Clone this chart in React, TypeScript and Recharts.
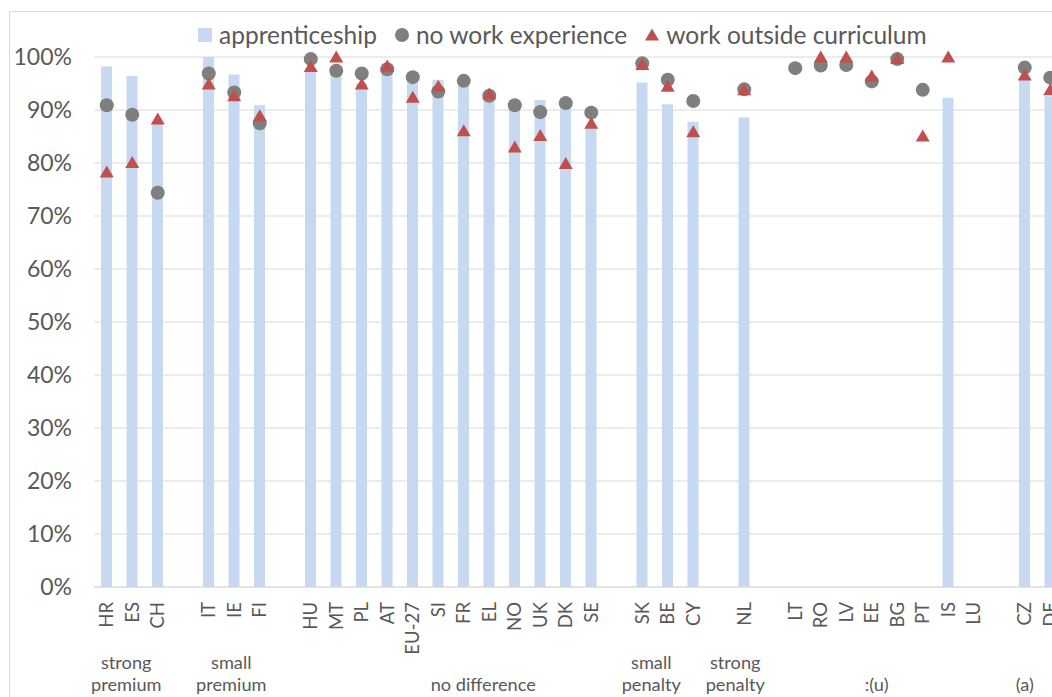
import React from 'react';
import { ComposedChart, Bar, Line, XAxis, YAxis, CartesianGrid } from 'recharts';

// gaps between country groups are blank categories starting with "_"
const categories = [
    'HR', 'ES', 'CH', '_1', 'IT', 'IE', 'FI', '_2',
    'HU', 'MT', 'PL', 'AT', 'EU-27', 'SI', 'FR', 'EL', 'NO', 'UK', 'DK', 'SE', '_3',
    'SK', 'BE', 'CY', '_4', 'NL', '_5',
    'LT', 'RO', 'LV', 'EE', 'BG', 'PT', 'IS', 'LU', '_6', 'CZ', 'DE',
];

const apprenticeship = [
    98.2, 96.4, 87.5, null, 100, 96.7, 90.9, null,
    97.5, 97, 95, 98, 95.5, 95.7, 94.7, 92.5, 91.5, 91.9, 90.5, 87, null,
    95.2, 91.1, 87.8, null, 88.6, null,
    null, null, null, null, null, null, 92.3, null, null, 95.8, 92.6,
];

const noWorkExperience = [
    90.9, 89.1, 74.4, null, 96.9, 93.3, 87.5, null,
    99.6, 97.4, 96.9, 97.7, 96.2, 93.5, 95.5, 92.7, 90.9, 89.6, 91.3, 89.5, null,
    98.8, 95.7, 91.7, null, 93.9, null,
    97.9, 98.4, 98.5, 95.4, 99.6, 93.8, null, null, null, 98.0, 96.1,
];

const workOutsideCurriculum = [
    78.3, 80.1, 88.3, null, 94.9, 92.7, 88.9, null,
    98.2, 100, 94.9, 98.3, 92.4, 94.5, 86.1, 93.0, 83.0, 85.2, 79.9, 87.5, null,
    98.6, 94.5, 85.9, null, 93.8, null,
    null, 100, 100, 96.4, 99.7, 85.1, 100, null, null, 96.6, 93.8,
];

const yTicks = [0, 10, 20, 30, 40, 50, 60, 70, 80, 90, 100];

// group captions, anchored on a category (with a small horizontal nudge)
const groupLabels: Record<string, { lines: string[]; dx: number }> = {
    ES: { lines: ['strong', 'premium'], dx: -6 },
    IE: { lines: ['small', 'premium'], dx: -3 },
    EL: { lines: ['', 'no difference'], dx: -6 },
    SK: { lines: ['small', 'penalty'], dx: 9 },
    NL: { lines: ['strong', 'penalty'], dx: -9 },
    EE: { lines: ['', ':(u)'], dx: 5 },
    CZ: { lines: ['', '(a)'], dx: 0 },
};

const BAR_COLOR = '#c6d9f1';
const CIRCLE_COLOR = '#7f7f7f';
const TRIANGLE_COLOR = '#c0504d';
const TEXT_COLOR = '#595959';
const GRID_COLOR = '#d9d9d9';
const FONT = 'Lato, "DejaVu Sans", sans-serif';

const data = categories.map((name, i) => ({
    name,
    apprenticeship: apprenticeship[i],
    noWork: noWorkExperience[i],
    outside: workOutsideCurriculum[i],
}));

const CircleDot = (props: any) => {
    const { cx, cy, value, index } = props;
    if (value == null || cy == null) return <g key={`c-${index}`} />;
    return <circle key={`c-${index}`} cx={cx} cy={cy} r={7} fill={CIRCLE_COLOR} />;
};

const TriangleDot = (props: any) => {
    const { cx, cy, value, index } = props;
    if (value == null || cy == null) return <g key={`t-${index}`} />;
    const pts = `${cx},${cy - 6.5} ${cx - 7},${cy + 5.5} ${cx + 7},${cy + 5.5}`;
    return <polygon key={`t-${index}`} points={pts} fill={TRIANGLE_COLOR} />;
};

const CategoryTick = (props: any) => {
    const { x, y, payload } = props;
    const name: string = payload.value;
    const group = groupLabels[name];
    return (
        <g>
            {!name.startsWith('_') && (
                <text
                    transform={`translate(${x},${y + 15}) rotate(-90)`}
                    textAnchor="end"
                    dy="0.36em"
                    fontSize={18.5}
                    fontFamily={FONT}
                    fill={TEXT_COLOR}
                >
                    {name}
                </text>
            )}
            {group && group.lines.map((line, i) => (
                <text
                    key={i}
                    x={x + group.dx}
                    y={y + 75 + i * 22}
                    dy="0.36em"
                    textAnchor="middle"
                    fontSize={18.2}
                    fontFamily={FONT}
                    fill={TEXT_COLOR}
                >
                    {line}
                </text>
            ))}
        </g>
    );
};

const legendItems = [
    { label: 'apprenticeship', icon: 'square' },
    { label: 'no work experience', icon: 'circle' },
    { label: 'work outside curriculum', icon: 'triangle' },
];

const LegendIcon = ({ kind }: { kind: string }) => (
    <svg width={14} height={14} style={{ marginRight: 7 }}>
        {kind === 'square' && <rect x={0} y={0} width={14} height={14} fill={BAR_COLOR} />}
        {kind === 'circle' && <circle cx={7} cy={7} r={7} fill={CIRCLE_COLOR} />}
        {kind === 'triangle' && <polygon points="7,0.5 0,12.5 14,12.5" fill={TRIANGLE_COLOR} />}
    </svg>
);

const App: React.FC = () => {
    return (
        <div style={{ position: 'fixed', left: 0, top: 0, width: 1052, height: 697, overflow: 'hidden', background: '#fff' }}>
            <div
                style={{
                    position: 'absolute', left: 9, top: 11, width: 1200, height: 800,
                    border: `1px solid ${GRID_COLOR}`, boxSizing: 'border-box',
                }}
            />
            <div
                style={{
                    position: 'absolute', left: 198, top: 20, display: 'flex', alignItems: 'center',
                    fontFamily: FONT, fontSize: 24.5, color: TEXT_COLOR, whiteSpace: 'nowrap',
                }}
            >
                {legendItems.map(item => (
                    <div key={item.label} style={{ display: 'flex', alignItems: 'center', marginRight: 18 }}>
                        <LegendIcon kind={item.icon} />
                        <span>{item.label}</span>
                    </div>
                ))}
            </div>
            <div style={{ position: 'absolute', left: 0, top: 0 }}>
                <ComposedChart
                    width={1100}
                    height={697}
                    data={data}
                    margin={{ top: 57, right: 37, bottom: 0, left: 10 }}
                    barSize={11}
                >
                    <CartesianGrid vertical={false} stroke={GRID_COLOR} />
                    <XAxis
                        dataKey="name"
                        interval={0}
                        height={110}
                        tickLine={false}
                        tickSize={0}
                        tickMargin={0}
                        axisLine={{ stroke: GRID_COLOR }}
                        tick={<CategoryTick />}
                    />
                    <YAxis
                        domain={[0, 100]}
                        ticks={yTicks}
                        width={84}
                        axisLine={false}
                        tickLine={false}
                        tickSize={0}
                        tickMargin={22}
                        tickFormatter={(v: number) => `${v}%`}
                        tick={{ fill: TEXT_COLOR, fontSize: 23, fontFamily: FONT }}
                    />
                    <Bar dataKey="apprenticeship" fill={BAR_COLOR} isAnimationActive={false} />
                    <Line
                        dataKey="noWork"
                        stroke="none"
                        dot={CircleDot}
                        activeDot={false}
                        isAnimationActive={false}
                    />
                    <Line
                        dataKey="outside"
                        stroke="none"
                        dot={TriangleDot}
                        activeDot={false}
                        isAnimationActive={false}
                    />
                </ComposedChart>
            </div>
        </div>
    );
};

export default App;
